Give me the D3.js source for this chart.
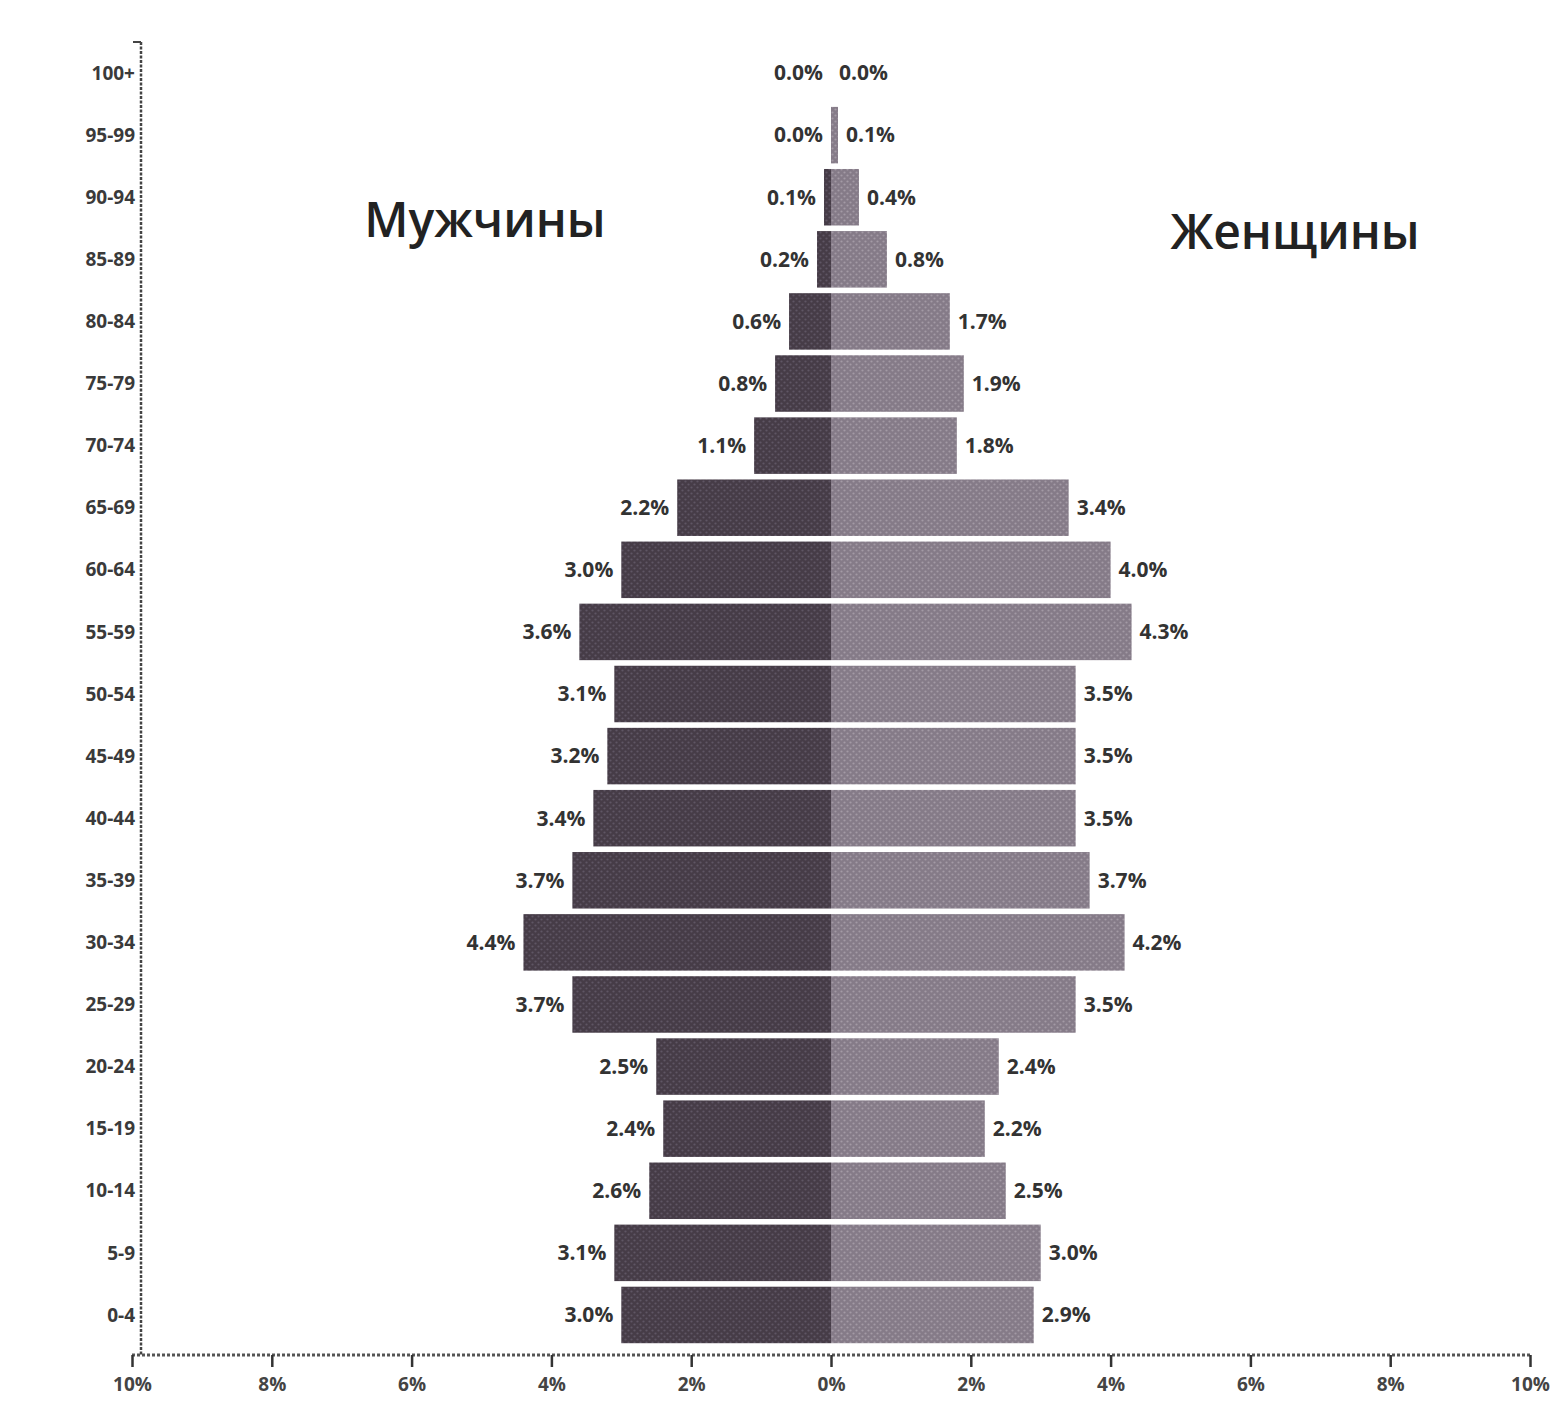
<!DOCTYPE html>
<html>
<head>
<meta charset="utf-8">
<script src="https://cdn.jsdelivr.net/npm/d3@7"></script>
<style>
  html, body { margin: 0; padding: 0; background: #fff; }
  svg { display: block; font-family: "Open Sans", "Liberation Sans", sans-serif; }
</style>
</head>
<body>
<div id="chart"></div>
<script>
// Age groups, top to bottom
const ageGroups = ['100+', '95-99', '90-94', '85-89', '80-84', '75-79', '70-74', '65-69', '60-64',
  '55-59', '50-54', '45-49', '40-44', '35-39', '30-34', '25-29', '20-24', '15-19', '10-14', '5-9', '0-4'];
// Share of total population, %
const maleValues = [0.0, 0.0, 0.1, 0.2, 0.6, 0.8, 1.1, 2.2, 3.0, 3.6, 3.1, 3.2, 3.4, 3.7, 4.4, 3.7, 2.5, 2.4, 2.6, 3.1, 3.0];
const femaleValues = [0.0, 0.1, 0.4, 0.8, 1.7, 1.9, 1.8, 3.4, 4.0, 4.3, 3.5, 3.5, 3.5, 3.7, 4.2, 3.5, 2.4, 2.2, 2.5, 3.0, 2.9];
const xTicks = [-10, -8, -6, -4, -2, 0, 2, 4, 6, 8, 10];

const width = 1568, height = 1403;

const rows = ageGroups.map((age, i) => ({ age, male: maleValues[i], female: femaleValues[i] }));

const svg = d3.select('#chart').append('svg')
  .attr('width', width)
  .attr('height', height);

// halftone-ish fills like the printed original
const defs = svg.append('defs');
function dotPattern(id, base, dot) {
  const p = defs.append('pattern')
    .attr('id', id)
    .attr('patternUnits', 'userSpaceOnUse')
    .attr('width', 6).attr('height', 6);
  p.append('rect').attr('width', 6).attr('height', 6).attr('fill', base);
  p.append('circle').attr('cx', 1.5).attr('cy', 1.5).attr('r', 1.1).attr('fill', dot);
  p.append('circle').attr('cx', 4.5).attr('cy', 4.5).attr('r', 1.1).attr('fill', dot);
}
dotPattern('maleFill', '#463c47', '#5f5664');
dotPattern('femaleFill', '#857b88', '#a39aa5');

const x = d3.scaleLinear().domain([-10, 10]).range([132, 1530]);
const y = d3.scaleBand().domain(ageGroups).range([42, 1346]).paddingInner(0.09).paddingOuter(0.045);

const axisX = 141;
const axisY = 1355;

// bars
const barG = svg.append('g');
barG.selectAll('rect.male')
  .data(rows)
  .join('rect')
  .attr('class', 'male')
  .attr('x', d => x(-d.male))
  .attr('y', d => y(d.age))
  .attr('width', d => x(0) - x(-d.male))
  .attr('height', y.bandwidth())
  .attr('fill', 'url(#maleFill)');

barG.selectAll('rect.female')
  .data(rows)
  .join('rect')
  .attr('class', 'female')
  .attr('x', x(0))
  .attr('y', d => y(d.age))
  .attr('width', d => Math.max(x(d.female) - x(0), d.female > 0 ? 2 : 0))
  .attr('height', y.bandwidth())
  .attr('fill', 'url(#femaleFill)');

// value labels
const fmt = v => v.toFixed(1) + '%';
const labelG = svg.append('g')
  .attr('font-size', 21)
  .attr('font-weight', 700)
  .attr('fill', '#333');

labelG.selectAll('text.male')
  .data(rows)
  .join('text')
  .attr('x', d => x(-d.male) - 8)
  .attr('y', d => y(d.age) + y.bandwidth() / 2)
  .attr('dy', '0.35em')
  .attr('text-anchor', 'end')
  .text(d => fmt(d.male));

labelG.selectAll('text.female')
  .data(rows)
  .join('text')
  .attr('x', d => x(d.female) + 8)
  .attr('y', d => y(d.age) + y.bandwidth() / 2)
  .attr('dy', '0.35em')
  .attr('text-anchor', 'start')
  .text(d => fmt(d.female));

// y axis (left, dotted line)
const yAxisG = svg.append('g').attr('transform', `translate(${axisX},0)`);
yAxisG.append('line')
  .attr('y1', 42).attr('y2', axisY)
  .attr('stroke', '#444').attr('stroke-width', 2.5)
  .attr('stroke-dasharray', '3,1.5');
yAxisG.append('line')
  .attr('x1', -8).attr('x2', 0).attr('y1', 42).attr('y2', 42)
  .attr('stroke', '#444').attr('stroke-width', 2);
yAxisG.selectAll('text')
  .data(ageGroups)
  .join('text')
  .attr('x', -6)
  .attr('y', d => y(d) + y.bandwidth() / 2)
  .attr('dy', '0.35em')
  .attr('text-anchor', 'end')
  .attr('font-size', 19)
  .attr('font-weight', 700)
  .attr('fill', '#3a3a3a')
  .text(d => d);

// x axis (bottom)
const xAxis = d3.axisBottom(x)
  .tickValues(xTicks)
  .tickSize(12)
  .tickFormat(d => Math.abs(d) + '%');
const xAxisG = svg.append('g')
  .attr('transform', `translate(0,${axisY})`)
  .call(xAxis);
xAxisG.select('.domain')
  .attr('d', `M${x(-10)},0H${x(10)}`)
  .attr('stroke', '#555').attr('stroke-width', 3)
  .attr('stroke-dasharray', '3,2');
xAxisG.selectAll('.tick line').attr('stroke', '#333').attr('stroke-width', 2.5);
xAxisG.selectAll('.tick text')
  .attr('font-size', 19)
  .attr('font-weight', 700)
  .attr('fill', '#444')
  .attr('font-family', '"Open Sans", "Liberation Sans", sans-serif')
  .attr('dy', '1.1em');

// side titles
svg.append('text')
  .attr('x', 485).attr('y', 237)
  .attr('text-anchor', 'middle')
  .attr('font-size', 48)
  .attr('font-weight', 600)
  .attr('fill', '#222')
  .text('Мужчины');
svg.append('text')
  .attr('x', 1295).attr('y', 249)
  .attr('text-anchor', 'middle')
  .attr('font-size', 48)
  .attr('font-weight', 600)
  .attr('fill', '#222')
  .text('Женщины');
</script>
</body>
</html>
